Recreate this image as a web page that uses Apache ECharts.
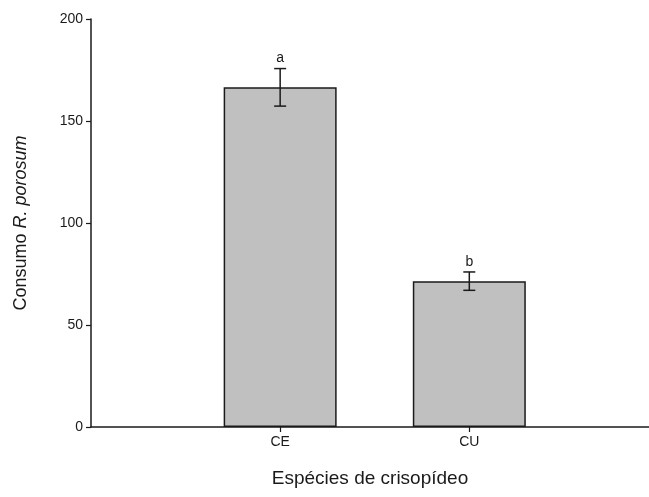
<!DOCTYPE html>
<html>
<head>
<meta charset="utf-8">
<script src="https://cdn.jsdelivr.net/npm/echarts@6/dist/echarts.min.js"></script>
<style>
  html, body { margin: 0; padding: 0; background: #fff; }
  #chart { width: 649px; height: 497px; }
</style>
</head>
<body>
<div id="chart"></div>
<script>
// Consumption of R. porosum by two lacewing species (mean ± SE)
const categories = ['CE', 'CU'];
const means = [166.5, 71.5];
const errors = [9.2, 4.5];
const letters = ['a', 'b'];
const yTicks = [0, 50, 100, 150, 200];

const positions = categories.map((_, i) => i + 1);
const barData = positions.map((p, i) => [p, means[i]]);
const errData = positions.map((p, i) => [p, means[i] - errors[i], means[i] + errors[i], i]);

const font = 'Liberation Sans, Arial, sans-serif';
const chart = echarts.init(document.getElementById('chart'), null, { renderer: 'canvas' });

chart.setOption({
  animation: false,
  backgroundColor: '#fff',
  grid: { left: 91, right: 0, top: 19, bottom: 70, containLabel: false },
  xAxis: {
    type: 'value',
    min: 0,
    max: 2.95,
    splitLine: { show: false },
    axisLine: { lineStyle: { color: '#1a1a1a', width: 1.5 } },
    axisTick: { show: true, customValues: positions, length: 5, lineStyle: { color: '#1a1a1a', width: 1.2 } },
    axisLabel: {
      customValues: positions,
      formatter: v => categories[Math.round(v) - 1] || '',
      color: '#1a1a1a', fontFamily: font, fontSize: 14, margin: 8
    },
    name: 'Espécies de crisopídeo',
    nameLocation: 'middle',
    nameGap: 42,
    nameTextStyle: { color: '#1a1a1a', fontFamily: font, fontSize: 19 }
  },
  yAxis: {
    type: 'value',
    min: 0,
    max: 200,
    interval: 50,
    splitLine: { show: false },
    axisLine: { show: true, lineStyle: { color: '#1a1a1a', width: 1.5 } },
    axisTick: { show: true, length: 5, lineStyle: { color: '#1a1a1a', width: 1.2 } },
    axisLabel: {
      formatter: v => (yTicks.includes(v) ? String(v) : ''),
      color: '#1a1a1a', fontFamily: font, fontSize: 14, margin: 8
    },
    name: '{n|Consumo }{i|R. porosum}',
    nameLocation: 'middle',
    nameGap: 61,
    nameTextStyle: {
      rich: {
        n: { color: '#1a1a1a', fontFamily: font, fontSize: 18 },
        i: { color: '#1a1a1a', fontFamily: font, fontSize: 18, fontStyle: 'italic' }
      }
    }
  },
  series: [
    {
      type: 'bar',
      data: barData,
      barWidth: 113,
      itemStyle: { color: '#c0c0c0', borderColor: '#1a1a1a', borderWidth: 1.5 },
      z: 2
    },
    {
      type: 'custom',
      data: errData,
      z: 5,
      renderItem: (params, api) => {
        const x = api.value(0);
        const lo = api.coord([x, api.value(1)]);
        const hi = api.coord([x, api.value(2)]);
        const cap = 6;
        const style = { stroke: '#1a1a1a', lineWidth: 1.5 };
        return {
          type: 'group',
          children: [
            { type: 'line', shape: { x1: lo[0], y1: lo[1], x2: hi[0], y2: hi[1] }, style },
            { type: 'line', shape: { x1: hi[0] - cap, y1: hi[1], x2: hi[0] + cap, y2: hi[1] }, style },
            { type: 'line', shape: { x1: lo[0] - cap, y1: lo[1], x2: lo[0] + cap, y2: lo[1] }, style },
            {
              type: 'text',
              style: {
                x: hi[0], y: hi[1] - 3,
                text: letters[api.value(3)],
                fill: '#1a1a1a', font: '14px ' + font,
                textAlign: 'center', textVerticalAlign: 'bottom'
              }
            }
          ]
        };
      }
    }
  ]
});
</script>
</body>
</html>
